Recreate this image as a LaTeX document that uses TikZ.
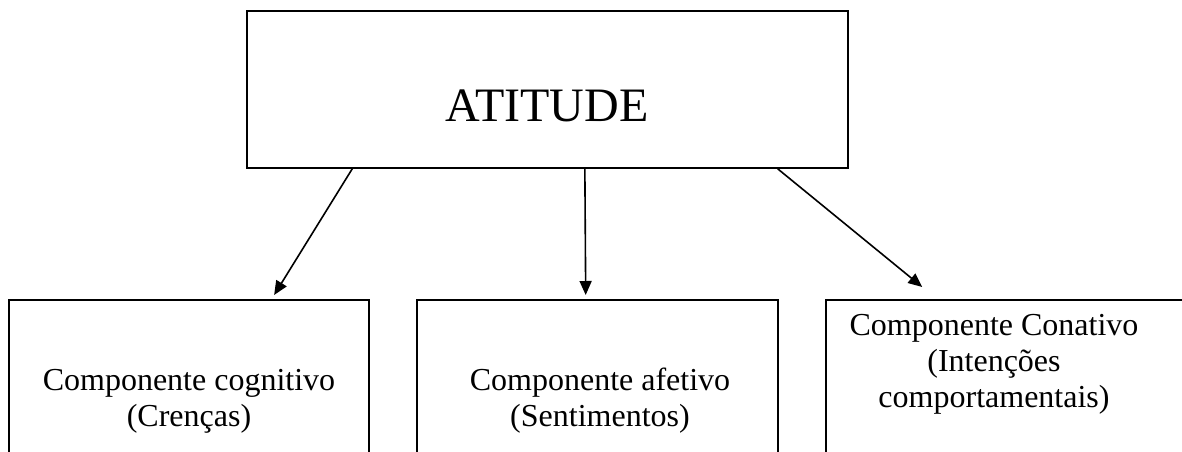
\documentclass[tikz,border=0pt]{standalone}
\usepackage{fontspec}
\setmainfont{Liberation Serif}
\usetikzlibrary{calc,arrows.meta}

\tikzset{every picture/.style={line width=1.2pt}}
\tikzset{
  topbox/.style={draw, rectangle, minimum width=450.75pt, minimum height=117.75pt, inner sep=0pt},
  compbox/.style={draw, rectangle, anchor=north west, minimum width=270pt, minimum height=150pt, inner sep=0pt},
  comptext/.style={align=center, inner sep=0.75pt, font=\fontsize{24}{27}\selectfont},
  seta/.style={-{Triangle[length=10.5pt,width=9pt]}}
}

\begin{document}
\begin{tikzpicture}[x=0.75pt,y=0.75pt,yscale=-1,xscale=1]
        \useasboundingbox (0,0) rectangle (1182,451);
        \clip (0,0) rectangle (1182,451);

        % Shape: Rectangle
        \node [topbox] (atitude) at (547.5,89.5) {};
        % Text Node
        \node [inner sep=0pt, font=\fontsize{36}{40}\selectfont] (txtati) at (547,106) {ATITUDE};

        % Shape: Rectangle (open below the page)
        \node [compbox] (cognitivo) at (8,299) {};
        \node [compbox, minimum width=270.75pt] (afetivo) at (416,299) {};
        \node [compbox] (conativo) at (825,299) {};

        % Text Node
        \node [comptext] (txtcog) at (189,401) {Componente cognitivo\\(Crenças)};
        % Text Node
        \node [comptext] (txtafe) at (600,401) {Componente afetivo\\(Sentimentos)};
        % Text Node
        \node [comptext] (txtcon) at (994,364) {Componente Conativo\\(Intenções\\comportamentais)};

        % Straight Lines
        \draw [seta] ($(atitude.south west)!0.176!(atitude.south east)$) -- ($(cognitivo.north west)!0.736!(cognitivo.north east)+(0,-4)$);
        % Straight Lines
        \draw [seta] ($(atitude.south west)!0.562!(atitude.south east)$) -- ($(afetivo.north west)!0.468!(afetivo.north east)+(0,-4)$);
        % Straight Lines
        \draw [seta] ($(atitude.south west)!0.882!(atitude.south east)$) -- ($(conativo.north west)!0.269!(conativo.north east)+(0,-12)$);
\end{tikzpicture}
\end{document}
